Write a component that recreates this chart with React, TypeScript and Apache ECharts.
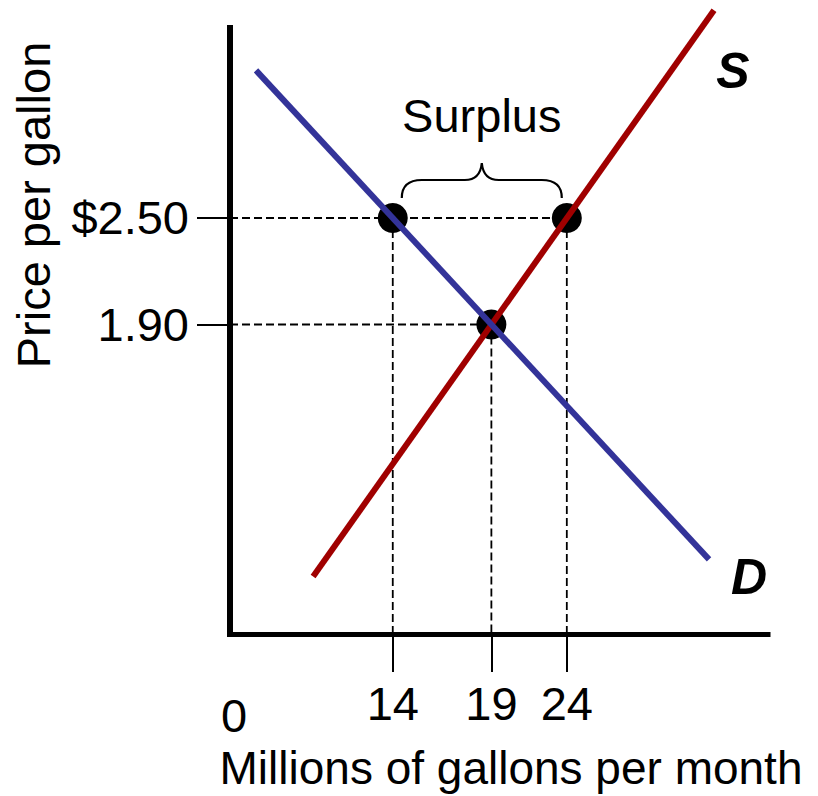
import React, { useEffect, useRef } from "react";
import * as echarts from "echarts";

// ---- data ----
const quantityTicks = [14, 19, 24]; // millions of gallons per month
const priceTicks = [1.9, 2.5]; // price per gallon
const priceTickLabels = ["1.90", "$2.50"];
const supplyLine = [
  [10.94, 0.48],
  [37.86, 3.671],
];
const demandLine = [
  [9.166, 3.3315],
  [37.28, 0.5766],
];
// quantity demanded at $2.50, equilibrium, quantity supplied at $2.50
const keyPoints = [
  [14, 2.5],
  [19, 1.9],
  [24, 2.5],
];
const xRange = [8.457, 44.75];
const yRange = [0.1563, 3.5704];

const FONT = "'Liberation Sans', Arial, Helvetica, sans-serif";

const BRACE_D =
  "M0,35 C0,23 6,17 20,17 L63,17 C73,17 79,11 80,0 C81,11 87,17 97,17 L140,17 C154,17 160,23 160,35";
echarts.graphic.registerShape("surplusBrace", echarts.graphic.extendPath(BRACE_D, {}));

export default function App() {
  const ref = useRef<HTMLDivElement>(null);

  useEffect(() => {
    if (!ref.current) return;
    const chart = echarts.init(ref.current, undefined, { renderer: "svg" });

    const dashStyle = { color: "#000", width: 1.8, type: [8, 4] as any };
    const dashed: any[] = [];
    const levels = Array.from(new Set(keyPoints.map((p) => p[1])));
    levels.forEach((lv) => {
      const maxX = Math.max(...keyPoints.filter((p) => p[1] === lv).map((p) => p[0]));
      dashed.push([
        [xRange[0], lv],
        [maxX, lv],
      ]);
    });
    keyPoints.forEach((p) => {
      dashed.push([
        [p[0], p[1]],
        [p[0], yRange[0]],
      ]);
    });

    chart.setOption({
      animation: false,
      textStyle: { fontFamily: FONT },
      grid: { left: 230, right: 50, top: 28, bottom: 162, outerBoundsMode: "none" } as any,
      xAxis: {
        type: "log",
        min: xRange[0],
        max: xRange[1],
        axisLine: { onZero: false, lineStyle: { color: "#000", width: 5, cap: "square" } },
        axisTick: {
          customValues: quantityTicks,
          length: 38,
          lineStyle: { color: "#000", width: 2 },
        },
        axisLabel: {
          customValues: quantityTicks,
          formatter: (v: number) => String(Math.round(v)),
          fontSize: 47,
          color: "#000",
          margin: 46,
          fontFamily: FONT,
        },
        splitLine: { show: false },
        minorTick: { show: false },
        minorSplitLine: { show: false },
      },
      yAxis: {
        type: "value",
        min: yRange[0],
        max: yRange[1],
        axisLine: { show: true, onZero: false, lineStyle: { color: "#000", width: 6, cap: "square" } },
        axisTick: {
          show: true,
          customValues: priceTicks,
          length: 33,
          lineStyle: { color: "#000", width: 2 },
        },
        axisLabel: {
          customValues: priceTicks,
          formatter: (v: number) => {
            const i = priceTicks.findIndex((t) => Math.abs(t - v) < 1e-6);
            return i >= 0 ? priceTickLabels[i] : "";
          },
          fontSize: 47,
          color: "#000",
          margin: 41,
          fontFamily: FONT,
        },
        splitLine: { show: false },
      },
      series: [
        ...dashed.map((d) => ({
          type: "line",
          data: d,
          symbol: "none",
          silent: true,
          lineStyle: dashStyle,
          clip: false,
        })),
        {
          type: "line",
          name: "Supply",
          data: supplyLine,
          symbol: "none",
          silent: true,
          clip: false,
          lineStyle: { color: "#A00000", width: 6 },
        },
        {
          type: "line",
          name: "Demand",
          data: demandLine,
          symbol: "none",
          silent: true,
          clip: false,
          lineStyle: { color: "#333399", width: 6 },
        },
        {
          type: "scatter",
          data: keyPoints,
          symbol: "circle",
          symbolSize: 30,
          silent: true,
          itemStyle: { color: "#000", opacity: 1 },
          clip: false,
        },
      ],
    });

    const px = (p: number[]) => chart.convertToPixel({ gridIndex: 0 }, p) as number[];
    const left = px(keyPoints[0]);
    const right = px(keyPoints[2]);
    const mid = (left[0] + right[0]) / 2 + 2;
    const sTop = px(supplyLine[1]);
    const dBottom = px(demandLine[1]);
    const origin = px([xRange[0], yRange[0]]);

    const txt = (text: string, x: number, y: number, extra: any = {}) => ({
      type: "text",
      x,
      y,
      silent: true,
      ...extra,
      style: {
        text,
        fill: "#000",
        fontSize: 47,
        fontFamily: FONT,
        textAlign: "center",
        align: "center",
        textVerticalAlign: "middle",
        verticalAlign: "middle",
        ...(extra.style || {}),
      },
    });

    chart.setOption({
      graphic: [
        {
          type: "surplusBrace",
          x: mid - 80,
          y: left[1] - 55,
          silent: true,
          style: { fill: "none", stroke: "#000", lineWidth: 2.2 },
        },
        txt("Surplus", mid, left[1] - 102),
        txt("S", sTop[0] + 19, sTop[1] + 61, {
          style: { fontSize: 50, fontWeight: "bold", fontStyle: "italic" },
        }),
        txt("D", dBottom[0] + 40, dBottom[1] + 18, {
          style: { fontSize: 50, fontWeight: "bold", fontStyle: "italic" },
        }),
        txt("0", origin[0] + 4, origin[1] + 81),
        txt("Price per gallon", 33, 205, { rotation: Math.PI / 2 }),
        txt("Millions of gallons per month", 511, 768, { style: { fontSize: 46 } }),
      ],
    });

    return () => chart.dispose();
  }, []);

  return (
    <div
      ref={ref}
      style={{ position: "fixed", left: 0, top: 0, width: 818, height: 796, background: "#fff" }}
    />
  );
}
